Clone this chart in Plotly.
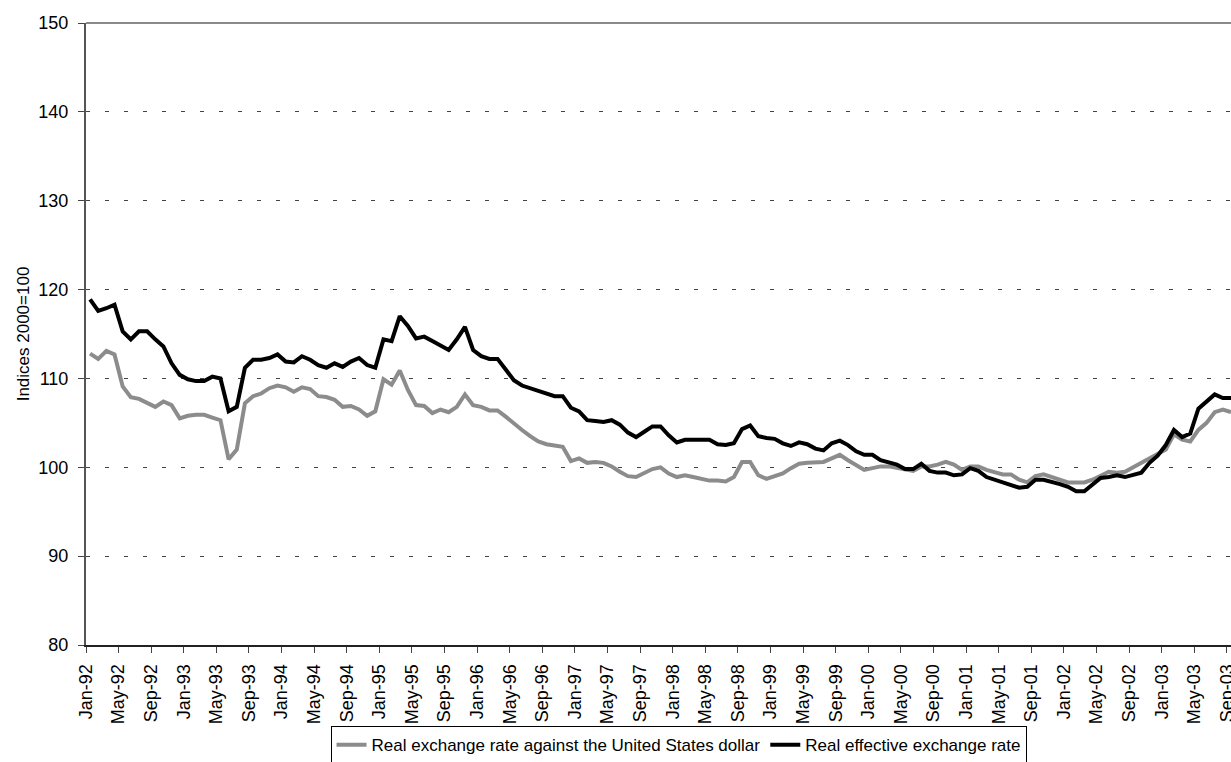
import plotly.graph_objects as go

# Monthly observations, Jan-92 .. Sep-03 (141 months)
real_vs_usd = [
    112.8, 112.2, 113.1, 112.7, 109.1, 107.9, 107.7, 107.2, 106.8, 107.4, 107.0, 105.5,
    105.8, 105.9, 105.9, 105.6, 105.3, 100.9, 102.0, 107.2, 108.0, 108.3, 108.9, 109.2,
    109.0, 108.5, 109.0, 108.8, 108.0, 107.9, 107.6, 106.8, 106.9, 106.5, 105.8, 106.3,
    109.9, 109.3, 110.9, 108.7, 107.0, 106.9, 106.1, 106.5, 106.2, 106.8, 108.2, 107.0,
    106.8, 106.4, 106.4, 105.7, 104.9, 104.2, 103.5, 102.9, 102.6, 102.5, 102.3, 100.7,
    101.0, 100.5, 100.6, 100.5, 100.1, 99.5, 99.0, 98.9, 99.3, 99.8, 100.0, 99.3,
    98.9, 99.1, 98.9, 98.7, 98.5, 98.5, 98.4, 98.9, 100.6, 100.6, 99.1, 98.7,
    99.0, 99.3, 99.9, 100.4, 100.5, 100.5, 100.6, 101.0, 101.4, 100.8, 100.3, 99.7,
    99.9, 100.1, 100.1, 99.9, 99.7, 99.6, 100.1, 100.1, 100.3, 100.6, 100.3, 99.7,
    100.1, 100.1, 99.7, 99.4, 99.2, 99.2, 98.6, 98.3, 99.0, 99.2, 98.9, 98.6,
    98.3, 98.3, 98.3, 98.6, 99.1, 99.5, 99.4, 99.5, 100.0, 100.5, 100.9, 101.4,
    102.0, 103.7, 103.1, 102.9, 104.2, 105.0, 106.2, 106.5, 106.2,
]

real_effective = [
    118.9, 117.6, 117.9, 118.3, 115.3, 114.4, 115.3, 115.3, 114.4, 113.6, 111.7, 110.4,
    109.9, 109.7, 109.7, 110.2, 110.0, 106.3, 106.8, 111.2, 112.1, 112.1, 112.3, 112.7,
    111.9, 111.8, 112.5, 112.1, 111.5, 111.2, 111.7, 111.3, 111.9, 112.3, 111.5, 111.2,
    114.4, 114.2, 117.0, 115.9, 114.5, 114.7, 114.2, 113.7, 113.2, 114.4, 115.8, 113.2,
    112.5, 112.2, 112.2, 111.0, 109.8, 109.2, 108.9, 108.5, 108.2, 108.0, 108.0, 106.7,
    106.3, 105.3, 105.2, 105.1, 105.3, 104.8, 103.9, 103.4, 104.0, 104.6, 104.6, 103.6,
    102.8, 103.1, 103.1, 103.1, 103.1, 102.6, 102.5, 102.7, 104.3, 104.7, 103.5, 103.3,
    103.2, 102.7, 102.4, 102.8, 102.6, 102.1, 101.9, 102.7, 103.0, 102.5, 101.8, 101.4,
    101.4, 100.8, 100.6, 100.3, 99.8, 99.8, 100.4, 99.6, 99.4, 99.4, 99.1, 99.2,
    99.9, 99.6, 98.9, 98.6, 98.4, 98.1, 97.7, 97.8, 98.6, 98.6, 98.4, 98.1,
    97.8, 97.3, 97.3, 98.0, 98.8, 98.9, 99.1, 98.9, 99.1, 99.4, 100.5, 101.3,
    102.5, 104.2, 103.4, 103.8, 106.6, 107.4, 108.2, 107.8, 107.8,
]

tick_labels = [
    "Jan-92", "May-92", "Sep-92", "Jan-93", "May-93", "Sep-93", "Jan-94", "May-94", "Sep-94",
    "Jan-95", "May-95", "Sep-95", "Jan-96", "May-96", "Sep-96", "Jan-97", "May-97", "Sep-97",
    "Jan-98", "May-98", "Sep-98", "Jan-99", "May-99", "Sep-99", "Jan-00", "May-00", "Sep-00",
    "Jan-01", "May-01", "Sep-01", "Jan-02", "May-02", "Sep-02", "Jan-03", "May-03", "Sep-03",
]
tick_step_months = 4

series_names = [
    "Real exchange rate against the United States dollar",
    "Real effective exchange rate",
]

# month index; each observation sits in the middle of its month slot
x_vals = [i + 0.5 for i in range(len(real_effective))]
tick_vals = [k * tick_step_months for k in range(len(tick_labels))]

FONT = "Liberation Sans, Arial, sans-serif"

fig = go.Figure()
fig.add_trace(go.Scatter(
    x=x_vals, y=real_vs_usd, mode="lines", name=series_names[0],
    line=dict(color="#8c8c8c", width=4),
))
fig.add_trace(go.Scatter(
    x=x_vals, y=real_effective, mode="lines", name=series_names[1],
    line=dict(color="#000000", width=4),
))

fig.update_layout(
    width=1231, height=762,
    margin=dict(l=86, r=0, t=23, b=117, autoexpand=False),
    paper_bgcolor="white", plot_bgcolor="white",
    font=dict(family=FONT, color="#000000"),
    showlegend=True,
    legend=dict(
        orientation="h", x=0.5175, xanchor="center", y=-0.1305, yanchor="top",
        bordercolor="#000000", borderwidth=1, bgcolor="white",
        font=dict(size=17, family=FONT, color="#000000"),
        itemwidth=30, tracegroupgap=0,
    ),
)

fig.update_xaxes(
    range=[0, 140.5], tickmode="array", tickvals=tick_vals, ticktext=tick_labels,
    tickangle=-90, tickfont=dict(size=18, family=FONT, color="#000000"),
    ticks="outside", ticklen=6, tickcolor="#444444", tickwidth=1, ticklabelstandoff=4,
    ticklabeloverflow="allow",
    showline=True, linecolor="#222222", linewidth=2,
    showgrid=False, zeroline=False, automargin=False,
)
fig.update_yaxes(
    range=[80, 150], tickmode="linear", tick0=80, dtick=10,
    tickfont=dict(size=18, family=FONT, color="#000000"),
    ticks="outside", ticklen=6, tickcolor="#444444", tickwidth=1, ticklabelstandoff=6,
    showline=True, linecolor="#555555", linewidth=2,
    showgrid=True, gridcolor="#444444", gridwidth=1, griddash="4px,15px",
    zeroline=False, automargin=False,
    title=dict(text="Indices 2000=100", font=dict(size=17, family=FONT, color="#000000"), standoff=4),
)

# plot-area top border
fig.add_shape(type="line", xref="paper", yref="paper", x0=0, x1=1, y0=1, y1=1,
              line=dict(color="#8a8a8a", width=2))

fig.write_html(
    "out.html",
    config={"displayModeBar": False},
    post_script="document.body.style.margin='0';document.body.style.overflow='hidden';",
)
